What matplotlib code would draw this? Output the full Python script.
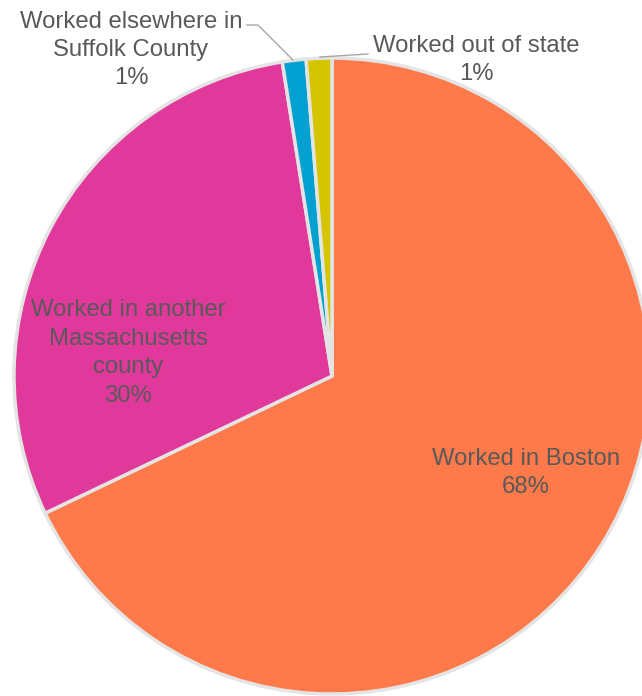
import matplotlib
matplotlib.use("Agg")
import matplotlib.pyplot as plt

categories = ["Worked in Boston", "Worked in another\nMassachusetts\ncounty",
              "Worked elsewhere in\nSuffolk County", "Worked out of state"]
values = [67.9, 29.6, 1.2, 1.3]
colors = ["#FF7A4A", "#E0399B", "#00A1D0", "#D4C500"]

W, H = 642, 696
fig = plt.figure(figsize=(W / 100, H / 100), dpi=100)
ax = fig.add_axes([0, 0, 1, 1])

cx, cy, r = 332, H - 376, 318
ax.pie(values, colors=colors, startangle=90, counterclock=False,
       center=(cx, cy), radius=r,
       wedgeprops=dict(edgecolor="#E4E4E4", linewidth=2.5))
ax.set_xlim(0, W)
ax.set_ylim(0, H)
ax.set_aspect("equal")
ax.set_axis_off()

tc = "#595959"
fs = 17.2
font = dict(family=["Liberation Sans", "DejaVu Sans"], fontsize=fs, color=tc,
            ha="center", va="center", linespacing=1.38)

def lab(i):
    return f"{categories[i]}\n{round(values[i]):.0f}%"

ax.text(526, H - 473, lab(0), **font)
ax.text(128, H - 353, lab(1), **font)
ax.text(131, H - 50, lab(2), **font)
ax.text(476, H - 60, lab(3), **font)

lc = "#A6A6A6"
ax.plot([247, 258, 293], [H - 25, H - 25, H - 60], color=lc, lw=1.0)
ax.plot([320, 368], [H - 57, H - 54], color=lc, lw=1.0)

fig.savefig("out.png", dpi=100)
